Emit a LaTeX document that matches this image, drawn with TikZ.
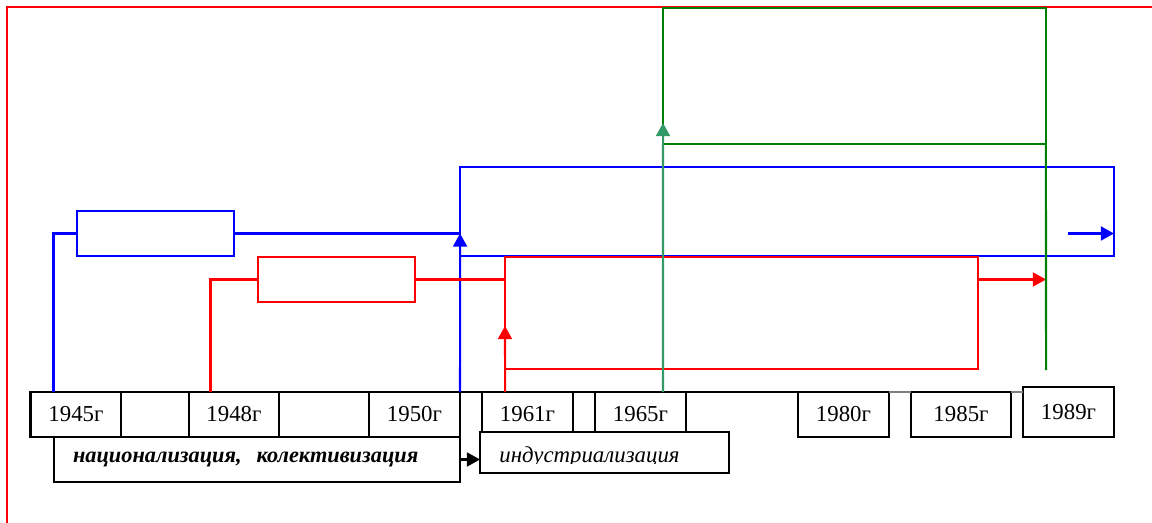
\documentclass[tikz,border=0pt]{standalone}
\usepackage{fontspec}
\setmainfont{Liberation Serif}
\usetikzlibrary{arrows.meta}
\definecolor{seagreen}{RGB}{51,153,102}
\definecolor{dkgreen}{RGB}{0,128,0}
\begin{document}
\begin{tikzpicture}[x=0.02cm, y=-0.02cm,
  yearbox/.style={draw, fill=white, line width=1.15pt, minimum width=1.82cm, minimum height=0.9cm, inner sep=0pt, outer sep=0pt, font=\fontsize{13}{15}\selectfont},
  periodbox/.style={draw, fill=white, line width=1.15pt, minimum height=0.9cm, inner sep=0pt, outer sep=0pt},
  framebox/.style={draw, line width=1.15pt, inner sep=0pt, outer sep=0pt},
  line/.style={line width=1.15pt},
  tip/.style={-{Triangle[width=8pt,length=7.5pt]}}]
\useasboundingbox (0,0) rectangle (1152,523);
% Рамка
\draw[red, line width=1.15pt] (7,523) -- (7,7) -- (1152,7);
% Шкала лет
\node[yearbox] (y1945) at (76,414.5) {1945г};
\node[yearbox, minimum width=1.36cm] (e1) at (155,414.5) {};
\node[yearbox] (y1948) at (234,414.5) {1948г};
\node[yearbox] (e2) at (324,414.5) {};
\node[yearbox] (y1950) at (414.5,414.5) {1950г};
\node[yearbox] (y1961) at (527.5,414.5) {1961г};
\node[yearbox, minimum width=0.44cm] (e3) at (584,414.5) {};
\node[yearbox] (y1965) at (640.5,414.5) {1965г};
\node[yearbox] (y1980) at (843.5,414.5) {1980г};
\node[yearbox, minimum width=2cm] (y1985) at (961,414.5) {1985г};
\node[yearbox, minimum height=1cm] (y1989) at (1068.5,412) {1989г};
\draw[line width=1.15pt] (y1950.north east) -- (y1961.north west);
\draw[line width=1.15pt] (y1965.north east) -- (y1980.north west);
\draw[gray, line width=1.15pt] (y1980.north east) -- (y1985.north west);
\draw[gray, line width=1.15pt] (y1985.north east) -- (y1985.north east -| y1989.west);
% Периоды
\node[periodbox, minimum width=8.12cm, text width=7.36cm, inner xsep=0.38cm, align=left,
  font=\bfseries\itshape\fontsize{12.7}{15}\selectfont] (nat) at (257,459.5) {национализация,\ \ колективизация};
\node[periodbox, minimum width=4.98cm, minimum height=0.82cm] (ind) at (604.5,452.5) {};
\begin{scope}
\clip (480,432) rectangle (729,463);
\node[anchor=base west, inner sep=0pt, font=\itshape\fontsize{13}{15}\selectfont] (indlabel) at (499,462) {индустриализация};
\end{scope}
\draw[line width=1.15pt, tip] (nat.east) -- (nat.east -| ind.west);
% Зелёная рамка
\node[framebox, draw=dkgreen, minimum width=7.66cm, minimum height=2.72cm] (gframe) at (854.5,76) {};
% Синяя линия
\node[framebox, draw=blue, minimum width=3.14cm, minimum height=0.9cm] (bstart) at (155.5,233.5) {};
\node[framebox, draw=blue, minimum width=13.08cm, minimum height=1.78cm] (bframe) at (787,211.5) {};
\draw[blue, line] ([xshift=0.46cm]y1945.north west) |- (bstart.west);
\draw[blue, line] (bstart.east) -- (bframe.west |- bstart.east);
\draw[blue, line, tip] (y1950.north east) -- (bframe.west |- bstart.east);
\coordinate (bend) at (bframe.east |- bstart.east);
\draw[blue, line, tip] ([xshift=-0.92cm]bend) -- (bend);
% Красная линия
\node[framebox, draw=red, minimum width=3.14cm, minimum height=0.9cm] (rstart) at (336.5,279.5) {};
\node[framebox, draw=red, minimum width=9.46cm, minimum height=2.24cm] (rframe) at (741.5,313) {};
\draw[red, line] ([xshift=0.44cm]y1948.north west) |- (rstart.west);
\draw[red, line] (rstart.east) -- (rframe.west |- rstart.east);
\coordinate (rtip) at (505,326);
\draw[red, line, tip] ([xshift=0.46cm]y1961.north west) -- (rtip);
\draw[red, line, tip] (rframe.east |- rstart.east) -- (gframe.east |- rstart.east);
% Зелёная линия
\coordinate (gend) at (1046,370);
\draw[dkgreen, line] (gframe.south east) -- (gend);
\coordinate (gtip) at (663,123);
\draw[seagreen, line, tip] ([xshift=1.36cm]y1965.north west) -- (gtip);
\end{tikzpicture}
\end{document}
